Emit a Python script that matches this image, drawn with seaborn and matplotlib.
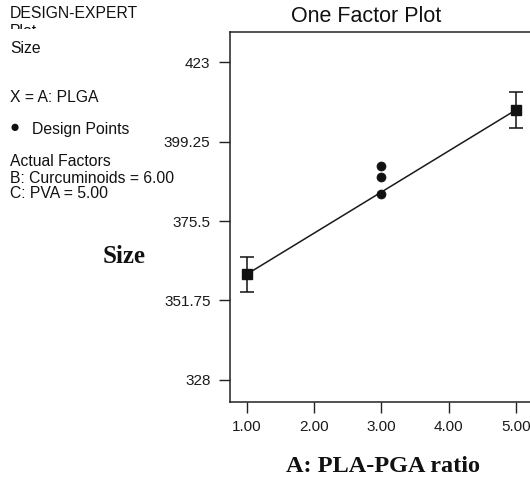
import matplotlib
matplotlib.use("Agg")
import matplotlib.pyplot as plt
import seaborn as sns
import pandas as pd
from matplotlib.patches import Rectangle

# Factor A levels with model prediction and confidence half-widths
levels = [1.0, 5.0]
predicted = [359.6, 408.7]
ci_half = [5.2, 5.3]

# Design points observed at the centre level
design_x = [3.0, 3.0, 3.0]
design_y = [391.8, 388.6, 383.5]

x_ticks = [1.0, 2.0, 3.0, 4.0, 5.0]
x_tick_labels = ["1.00", "2.00", "3.00", "4.00", "5.00"]
y_ticks = [328, 351.75, 375.5, 399.25, 423]
y_tick_labels = ["328", "351.75", "375.5", "399.25", "423"]

sns.set_theme(style="white")
plt.rcParams["font.family"] = ["Liberation Sans", "DejaVu Sans"]

fig = plt.figure(figsize=(5.30, 4.82), dpi=100)
ax = fig.add_axes([0.434, 0.1666, 0.571, 0.767])

pred_df = pd.DataFrame({"A": levels, "Size": predicted})
pts_df = pd.DataFrame({"A": design_x, "Size": design_y})

sns.lineplot(data=pred_df, x="A", y="Size", ax=ax, color="#1a1a1a",
             linewidth=1.1, zorder=2)
ax.errorbar(levels, predicted, yerr=ci_half, fmt="s", color="#111111",
            markersize=6.5, elinewidth=1.1, capsize=5, capthick=1.1, zorder=3)
sns.scatterplot(data=pts_df, x="A", y="Size", ax=ax, color="#111111",
                s=42, edgecolor="#111111", zorder=4)

ax.set_xlim(0.75, 5.25)
ax.set_ylim(321.5, 432.0)
ax.set_xticks(x_ticks)
ax.set_xticklabels(x_tick_labels)
ax.set_yticks(y_ticks)
ax.set_yticklabels(y_tick_labels)
ax.tick_params(axis="both", direction="out", length=8, width=1.0,
               color="#222222", labelsize=11, labelcolor="#1a1a1a",
               left=True, bottom=True, pad=6)
ax.tick_params(axis="x", pad=5)
for side in ["left", "bottom", "top"]:
    ax.spines[side].set_color("#222222")
    ax.spines[side].set_linewidth(1.1)
ax.spines["right"].set_visible(False)
ax.set_xlabel("")
ax.set_ylabel("")
ax.grid(False)

fig.text(0.691, 0.965, "One Factor Plot", fontsize=15.5, color="#111111",
         ha="center", va="center")

# Axis titles in bold serif
fig.text(0.234, 0.467, "Size", family=["Liberation Serif", "DejaVu Serif"],
         fontweight="bold", fontsize=18, ha="center", va="center", color="#111111")
fig.text(0.723, 0.033, "A: PLA-PGA ratio", family=["Liberation Serif", "DejaVu Serif"],
         fontweight="bold", fontsize=17.5, ha="center", va="center", color="#111111")

# Side panel describing the plot settings
side = dict(fontsize=11.3, color="#111111", ha="left", va="center")
fig.text(0.019, 0.972, "DESIGN-EXPERT", **side)
fig.text(0.019, 0.934, "Plot", **side)
fig.patches.append(Rectangle((0.0, 0.915), 0.2, 0.024, transform=fig.transFigure,
                             facecolor="white", edgecolor="none", zorder=5))
fig.text(0.019, 0.900, "Size", **side)
fig.text(0.019, 0.797, "X = A: PLGA", **side)
fig.text(0.018, 0.736, "\u25CF", fontsize=12, color="#111111", ha="left", va="center")
fig.text(0.060, 0.732, "Design Points", **side)
fig.text(0.019, 0.664, "Actual Factors", **side)
fig.text(0.019, 0.629, "B: Curcuminoids = 6.00", **side)
fig.text(0.019, 0.598, "C: PVA = 5.00", **side)

fig.savefig("out.png", dpi=100)
